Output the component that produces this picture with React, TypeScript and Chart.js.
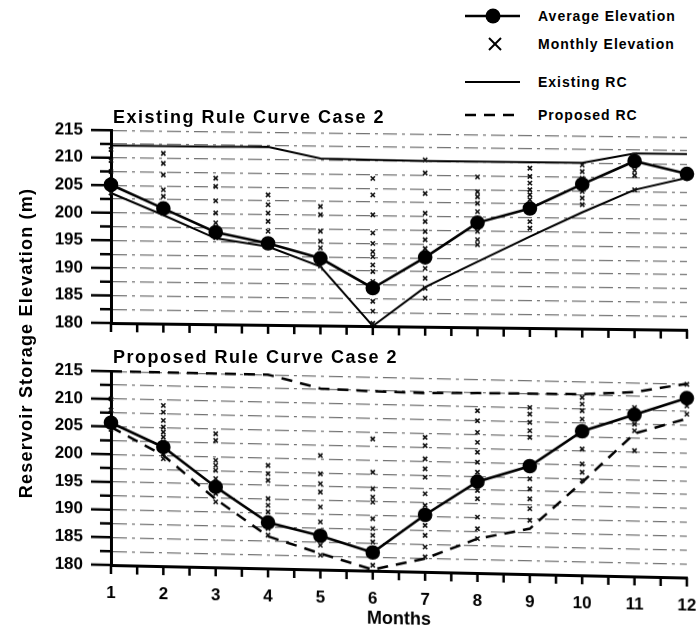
import React, { useEffect, useRef } from "react";
import { Chart, registerables } from "chart.js";

Chart.register(...registerables);

// ---------- data ----------
const months = [1, 2, 3, 4, 5, 6, 7, 8, 9, 10, 11, 12];

const yTickValues = [180, 185, 190, 195, 200, 205, 210, 215];

// Top panel: Existing Rule Curve Case 2
const existingAvg = [205.1, 200.9, 196.7, 194.8, 192.2, 186.9, 192.6, 199.0, 201.7, 206.2, 210.5, 208.3];
const existingUpperRC = [212.2, 212.2, 212.2, 212.3, 210.3, 210.2, 210.1, 210.1, 210.1, 210.1, 211.9, 211.9];
const existingLowerRC = [203.6, 199.7, 195.6, 194.2, 190.7, 180.0, 187.2, 191.9, 196.6, 201.1, 205.3, 207.6];
const existingMonthly: number[][] = [
  [211.5, 209.5, 207.5, 206.0, 205.2, 204.3, 203.6],
  [210.9, 209.1, 207.0, 204.3, 203.1, 201.2, 200.0],
  [206.5, 205.0, 202.4, 200.2, 198.4, 196.9, 195.7],
  [203.6, 201.8, 200.3, 198.8, 197.0, 195.2, 194.3],
  [201.6, 200.1, 197.1, 195.3, 194.1, 192.6, 190.8],
  [206.8, 203.8, 200.2, 196.9, 195.0, 193.5, 192.6, 191.1, 189.9, 188.1, 186.3, 184.5, 182.7, 180.5],
  [210.3, 207.9, 204.2, 200.6, 199.1, 197.3, 195.8, 194.2, 192.7, 190.6, 188.8, 187.0, 185.2],
  [207.3, 204.6, 203.7, 202.5, 201.0, 198.9, 197.4, 195.9, 195.0],
  [209.0, 207.5, 206.3, 205.1, 204.2, 203.3, 201.7, 199.3, 198.1],
  [209.7, 208.5, 207.3, 206.1, 204.9, 203.7, 202.5],
  [211.6, 210.6, 209.7, 208.8, 207.9, 205.3],
  [209.0, 208.3, 207.7],
];

// Bottom panel: Proposed Rule Curve Case 2
const proposedAvg = [205.7, 201.5, 194.5, 188.3, 186.1, 183.3, 190.3, 196.5, 199.5, 206.0, 209.2, 212.4];
const proposedUpperRC = [215.0, 215.0, 215.0, 215.0, 212.7, 212.4, 212.3, 212.5, 212.6, 212.7, 213.3, 215.0];
const proposedLowerRC = [204.9, 200.0, 192.3, 185.8, 182.9, 180.2, 182.4, 186.2, 188.2, 196.8, 205.8, 208.7];
const proposedMonthly: number[][] = [
  [210.0, 208.0, 206.5, 205.0, 204.5],
  [209.0, 207.8, 206.3, 205.1, 204.2, 203.3, 202.4, 201.5, 200.3, 199.4],
  [204.1, 202.9, 199.3, 198.4, 197.5, 196.0, 194.5, 193.3, 191.8],
  [198.6, 197.1, 195.9, 192.6, 191.4, 190.2, 188.4, 187.2, 186.0],
  [200.6, 197.3, 195.5, 194.0, 191.3, 188.6, 186.2, 184.4, 182.6],
  [203.8, 197.8, 194.8, 193.3, 192.4, 189.4, 187.6, 186.4, 185.2, 183.4, 181.0],
  [204.3, 202.8, 200.4, 198.6, 197.1, 194.1, 192.0, 190.2, 188.4, 186.6, 184.5, 182.7],
  [209.3, 207.5, 205.4, 203.6, 201.8, 200.0, 198.2, 196.7, 194.9, 193.4, 190.1, 188.0, 186.2],
  [210.1, 208.9, 207.4, 205.9, 204.7, 199.6, 197.2, 195.4, 193.6, 191.8, 189.7],
  [212.1, 210.9, 209.7, 208.2, 206.1, 202.8, 200.1, 198.6, 197.1],
  [210.5, 209.0, 207.5, 206.3, 202.7],
  [214.9, 212.5, 211.0, 209.5],
];

const topTitle = "Existing Rule Curve Case 2";
const bottomTitle = "Proposed Rule Curve Case 2";
const yAxisTitle = "Reservoir Storage Elevation (m)";
const xAxisTitle = "Months";
const legendLabels = ["Average Elevation", "Monthly Elevation", "Existing RC", "Proposed RC"];

// ---------- helpers ----------
const FONT = "'Liberation Sans', Arial, Helvetica, sans-serif";

const toXY = (vals: number[]) => vals.map((v, i) => ({ x: months[i], y: v }));
const monthlyXY = (rows: number[][]) =>
  rows.flatMap((row, i) => row.map((v) => ({ x: months[i], y: v })));

// tick marks: long at labelled values, short at intermediate ones
const tickMarks = {
  id: "tickMarks",
  afterDraw(chart: any) {
    const { ctx, chartArea, scales } = chart;
    const ys = scales.y;
    const xs = scales.x;
    ctx.save();
    ctx.strokeStyle = "#000";
    ctx.lineWidth = 2.5;
    ctx.beginPath();
    ys.ticks.forEach((t: any) => {
      const py = ys.getPixelForValue(t.value);
      const len = yTickValues.includes(t.value) ? 20 : 11;
      ctx.moveTo(chartArea.left - len, py);
      ctx.lineTo(chartArea.left, py);
    });
    xs.ticks.forEach((t: any) => {
      const px = xs.getPixelForValue(t.value);
      ctx.moveTo(px, chartArea.bottom);
      ctx.lineTo(px, chartArea.bottom + 9);
    });
    ctx.stroke();
    ctx.restore();
  },
};

type PanelProps = {
  avg: number[];
  upper: number[];
  lower: number[];
  monthly: number[][];
  dashed: boolean;
  showX: boolean;
  height: number;
  xAxisHeight: number;
};

function Panel({ avg, upper, lower, monthly, dashed, showX, height, xAxisHeight }: PanelProps) {
  const ref = useRef<HTMLCanvasElement | null>(null);
  useEffect(() => {
    if (!ref.current) return;
    const rcDash = dashed ? [11, 8] : [];
    const chart = new Chart(ref.current, {
      type: "line",
      data: {
        datasets: [
          {
            type: "line",
            label: "avg",
            data: toXY(avg),
            borderColor: "#000",
            backgroundColor: "#000",
            borderWidth: 2.6,
            pointRadius: 6,
            pointStyle: "circle",
            pointBackgroundColor: "#000",
            pointBorderColor: "#000",
            tension: 0,
            clip: false,
            order: 0,
          } as any,
          {
            type: "scatter",
            label: "monthly",
            data: monthlyXY(monthly),
            borderColor: "#111",
            backgroundColor: "#111",
            pointStyle: "crossRot",
            pointRadius: 3,
            borderWidth: 1.6,
            clip: false,
            order: 1,
          } as any,
          {
            type: "line",
            label: "upper",
            data: toXY(upper),
            borderColor: "#000",
            borderWidth: dashed ? 2.5 : 2,
            borderDash: rcDash,
            pointRadius: 0,
            tension: 0,
            clip: false,
            order: 2,
          } as any,
          {
            type: "line",
            label: "lower",
            data: toXY(lower),
            borderColor: "#000",
            borderWidth: dashed ? 2.5 : 2,
            borderDash: rcDash,
            pointRadius: 0,
            tension: 0,
            clip: false,
            order: 2,
          } as any,
        ],
      },
      options: {
        responsive: false,
        animation: false,
        devicePixelRatio: 1,
        events: [],
        layout: { padding: { top: 10, right: 12, left: 0, bottom: 0 } },
        plugins: {
          legend: { display: false },
          tooltip: { enabled: false },
          title: { display: false },
        },
        scales: {
          x: {
            type: "linear",
            min: 1,
            max: 12,
            afterFit: (s: any) => {
              s.height = xAxisHeight;
            },
            grid: {
              display: true,
              drawOnChartArea: false,
              drawTicks: true,
              tickLength: 18,
              tickColor: "rgba(0,0,0,0)",
              color: "rgba(0,0,0,0)",
            },
            border: { display: true, color: "#000", width: 3 },
            ticks: {
              display: showX,
              stepSize: 0.5,
              autoSkip: false,
              maxRotation: 0,
              padding: 0,
              color: "#000",
              font: { family: FONT, size: 17, weight: "bold" },
              callback: (v: any) => (Number.isInteger(v) ? String(v) : ""),
            },
            title: {
              display: showX,
              text: xAxisTitle,
              color: "#000",
              font: { family: FONT, size: 18, weight: "bold" },
              padding: { top: 0, bottom: 6 },
            },
          } as any,
          y: {
            type: "linear",
            min: 180,
            max: 215,
            afterFit: (s: any) => {
              s.width = 111;
            },
            grid: {
              display: true,
              drawTicks: true,
              tickLength: 28,
              tickColor: "rgba(0,0,0,0)",
              color: "rgba(0,0,0,0.55)",
              lineWidth: 1.2,
            },
            border: { display: true, color: "#000", width: 3, dash: [14, 5, 3, 5] },
            ticks: {
              stepSize: 2.5,
              autoSkip: false,
              padding: 0,
              color: "#000",
              font: { family: FONT, size: 17, weight: "bold" },
              callback: (v: any) => (yTickValues.includes(v) ? String(v) : ""),
            },
          } as any,
        },
      },
      plugins: [tickMarks],
    });
    return () => chart.destroy();
  }, []);
  return <canvas ref={ref} width={699} height={height} style={{ display: "block" }} />;
}

function LegendSymbols() {
  return (
    <svg width={90} height={130} style={{ position: "absolute", left: 450, top: 0 }}>
      <line x1={15} y1={16} x2={70} y2={16} stroke="#000" strokeWidth={2.5} />
      <circle cx={43} cy={16} r={7.5} fill="#000" />
      <line x1={39} y1={38} x2={51} y2={50} stroke="#000" strokeWidth={2} />
      <line x1={51} y1={38} x2={39} y2={50} stroke="#000" strokeWidth={2} />
      <line x1={15} y1={82} x2={70} y2={82} stroke="#000" strokeWidth={2} />
      <line x1={15} y1={115} x2={70} y2={115} stroke="#000" strokeWidth={2.5} strokeDasharray="11 8" />
    </svg>
  );
}

export default function App() {
  const legendY = [16, 44, 82, 115];
  return (
    <div
      style={{
        position: "absolute",
        left: 0,
        top: 0,
        width: 699,
        height: 630,
        overflow: "hidden",
        background: "#fff",
        fontFamily: FONT,
        color: "#000",
      }}
    >
      <LegendSymbols />
      {legendLabels.map((t, i) => (
        <div
          key={t}
          style={{
            position: "absolute",
            left: 538,
            top: legendY[i] - 9,
            height: 18,
            lineHeight: "18px",
            fontSize: 14,
            fontWeight: "bold",
            letterSpacing: "1px",
            whiteSpace: "nowrap",
          }}
        >
          {t}
        </div>
      ))}

      <div
        style={{
          position: "absolute",
          left: 0,
          top: 120,
          width: 699,
          height: 220,
          transform: "skewY(0.68deg)",
          transformOrigin: "111px 0px",
        }}
      >
        <Panel
          avg={existingAvg}
          upper={existingUpperRC}
          lower={existingLowerRC}
          monthly={existingMonthly}
          dashed={false}
          showX={false}
          height={220}
          xAxisHeight={17}
        />
      </div>

      <div
        style={{
          position: "absolute",
          left: 0,
          top: 361,
          width: 699,
          height: 269,
          transform: "skewY(1.25deg)",
          transformOrigin: "111px 0px",
        }}
      >
        <Panel
          avg={proposedAvg}
          upper={proposedUpperRC}
          lower={proposedLowerRC}
          monthly={proposedMonthly}
          dashed={true}
          showX={true}
          height={269}
          xAxisHeight={65}
        />
      </div>

      <div
        style={{
          position: "absolute",
          left: 113,
          top: 107,
          lineHeight: "20px",
          fontSize: 18,
          fontWeight: "bold",
          letterSpacing: "1.5px",
          whiteSpace: "nowrap",
        }}
      >
        {topTitle}
      </div>
      <div
        style={{
          position: "absolute",
          left: 113,
          top: 347,
          lineHeight: "20px",
          fontSize: 18,
          fontWeight: "bold",
          letterSpacing: "1.5px",
          whiteSpace: "nowrap",
        }}
      >
        {bottomTitle}
      </div>

      <div
        style={{
          position: "absolute",
          left: 26 - 180,
          top: 343 - 12,
          width: 360,
          height: 24,
          lineHeight: "24px",
          textAlign: "center",
          fontSize: 18,
          fontWeight: "bold",
          letterSpacing: "1.2px",
          whiteSpace: "nowrap",
          transform: "rotate(-90deg)",
        }}
      >
        {yAxisTitle}
      </div>
    </div>
  );
}
